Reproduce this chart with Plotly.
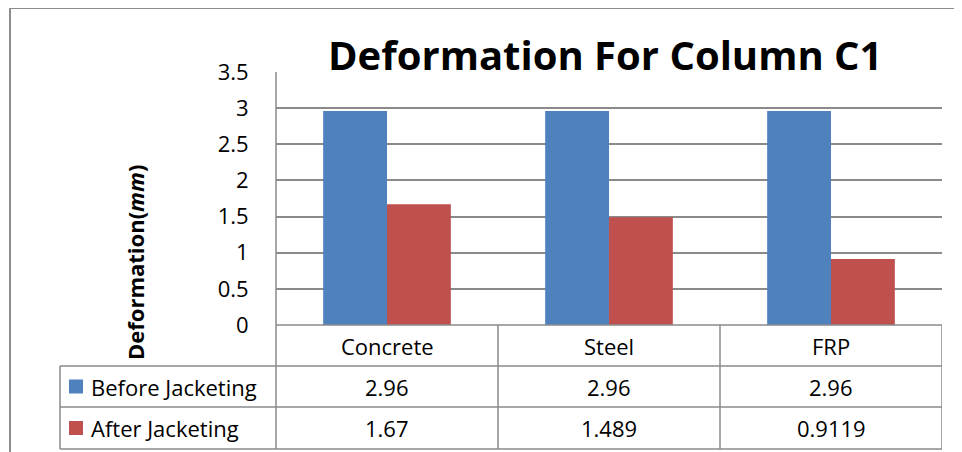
import plotly.graph_objects as go

categories = ["Concrete", "Steel", "FRP"]
before_jacketing = [2.96, 2.96, 2.96]
after_jacketing = [1.67, 1.489, 0.9119]
series_names = ["Before Jacketing", "After Jacketing"]
series_colors = ["#4F81BD", "#C0504D"]
y_ticks = [0, 0.5, 1, 1.5, 2, 2.5, 3, 3.5]
y_tick_labels = ["0", "0.5", "1", "1.5", "2", "2.5", "3", "3.5"]
title_text = "<b>Deformation For Column C1</b>"
y_title_text = "<b>Deformation(<i>mm</i>)</b>"

W, H = 962, 452
OFF = 8  # page body margin offset
FONT = "Open Sans"
GRID = "#8a8a8a"


def px(x):
    return (x - OFF) / W


def py(y):
    return 1 - (y - OFF) / H


# layout geometry (screen pixels)
PL, PR, PT, PB = 276, 942, 72, 325
ROW1, ROW2, ROW3 = 366, 407, 449
TBL_L = 60

fig = go.Figure()
series_values = [before_jacketing, after_jacketing]
for name, vals, col in zip(series_names, series_values, series_colors):
    fig.add_trace(go.Bar(x=categories, y=vals, name=name,
                         marker=dict(color=col, line=dict(width=0))))

shapes = []
# outer chart border
shapes.append(dict(type="line", xref="paper", yref="paper", x0=px(10), x1=px(970),
                   y0=py(8), y1=py(8), line=dict(color="#8c8c8c", width=2)))
shapes.append(dict(type="line", xref="paper", yref="paper", x0=px(10), x1=px(10),
                   y0=py(8), y1=py(470), line=dict(color="#8c8c8c", width=2)))
# table horizontal lines
shapes.append(dict(type="line", xref="paper", yref="paper", x0=px(PL), x1=px(PR),
                   y0=py(PB), y1=py(PB), line=dict(color=GRID, width=1.5)))
for yy in (ROW1, ROW2, ROW3):
    shapes.append(dict(type="line", xref="paper", yref="paper", x0=px(TBL_L), x1=px(PR),
                       y0=py(yy), y1=py(yy), line=dict(color=GRID, width=1.5)))
# table vertical lines
shapes.append(dict(type="line", xref="paper", yref="paper", x0=px(TBL_L), x1=px(TBL_L),
                   y0=py(ROW1), y1=py(ROW3), line=dict(color=GRID, width=1.5)))
shapes.append(dict(type="line", xref="paper", yref="paper", x0=px(PL), x1=px(PL),
                   y0=py(PT), y1=py(ROW3), line=dict(color=GRID, width=1.5)))
for i in range(1, len(categories) + 1):
    shapes.append(dict(type="line", xref="x", yref="paper", x0=i - 0.5, x1=i - 0.5,
                       y0=py(PB), y1=py(ROW3), line=dict(color=GRID, width=1.5)))
# legend keys
for row_top, row_bot, col in zip((ROW1, ROW2), (ROW2, ROW3), series_colors):
    cy = (row_top + row_bot) / 2
    shapes.append(dict(type="rect", xref="paper", yref="paper", x0=px(69), x1=px(83),
                       y0=py(cy - 7), y1=py(cy + 7), fillcolor=col, line=dict(width=0)))

annotations = []
annotations.append(dict(text=title_text, xref="paper", yref="paper", x=px(605), y=py(54),
                        showarrow=False, xanchor="center", yanchor="middle",
                        font=dict(family=FONT, size=40, color="#000000")))
annotations.append(dict(text=y_title_text, xref="paper", yref="paper", x=px(135), y=py(263),
                        showarrow=False, textangle=-90, xanchor="center", yanchor="middle",
                        font=dict(family=FONT, size=22, color="#000000")))
# category row
for c in categories:
    annotations.append(dict(text=c, xref="x", yref="paper", x=c, y=py((PB + ROW1) / 2),
                            showarrow=False, xanchor="center", yanchor="middle",
                            font=dict(family=FONT, size=22, color="#000000")))
# data rows
for r, (name, vals) in enumerate(zip(series_names, series_values)):
    top = ROW1 if r == 0 else ROW2
    bot = ROW2 if r == 0 else ROW3
    cy = (top + bot) / 2
    annotations.append(dict(text=name, xref="paper", yref="paper", x=px(89), y=py(cy),
                            showarrow=False, xanchor="left", yanchor="middle",
                            font=dict(family=FONT, size=22, color="#000000")))
    for c, v in zip(categories, vals):
        annotations.append(dict(text=f"{v:g}", xref="x", yref="paper", x=c, y=py(cy),
                                showarrow=False, xanchor="center", yanchor="middle",
                                font=dict(family=FONT, size=22, color="#000000")))

fig.update_layout(
    width=W, height=H,
    margin=dict(l=0, r=0, t=0, b=0, autoexpand=False),
    paper_bgcolor="white", plot_bgcolor="white",
    showlegend=False,
    barmode="group", bargap=0.425, bargroupgap=0,
    xaxis=dict(domain=[px(PL), px(PR)], showticklabels=False, showgrid=False,
               zeroline=False, showline=False, automargin=False,
               range=[-0.5, len(categories) - 0.5]),
    yaxis=dict(domain=[py(PB), py(PT)], range=[0, 3.5], tickvals=y_ticks,
               ticktext=y_tick_labels, showgrid=True, gridcolor=GRID, gridwidth=1.5,
               zeroline=False, showline=False, ticks="outside", ticklen=22,
               tickcolor="rgba(0,0,0,0)", automargin=False,
               tickfont=dict(family=FONT, size=22, color="#000000")),
    shapes=shapes,
    annotations=annotations,
)

fig.write_html("out.html")
